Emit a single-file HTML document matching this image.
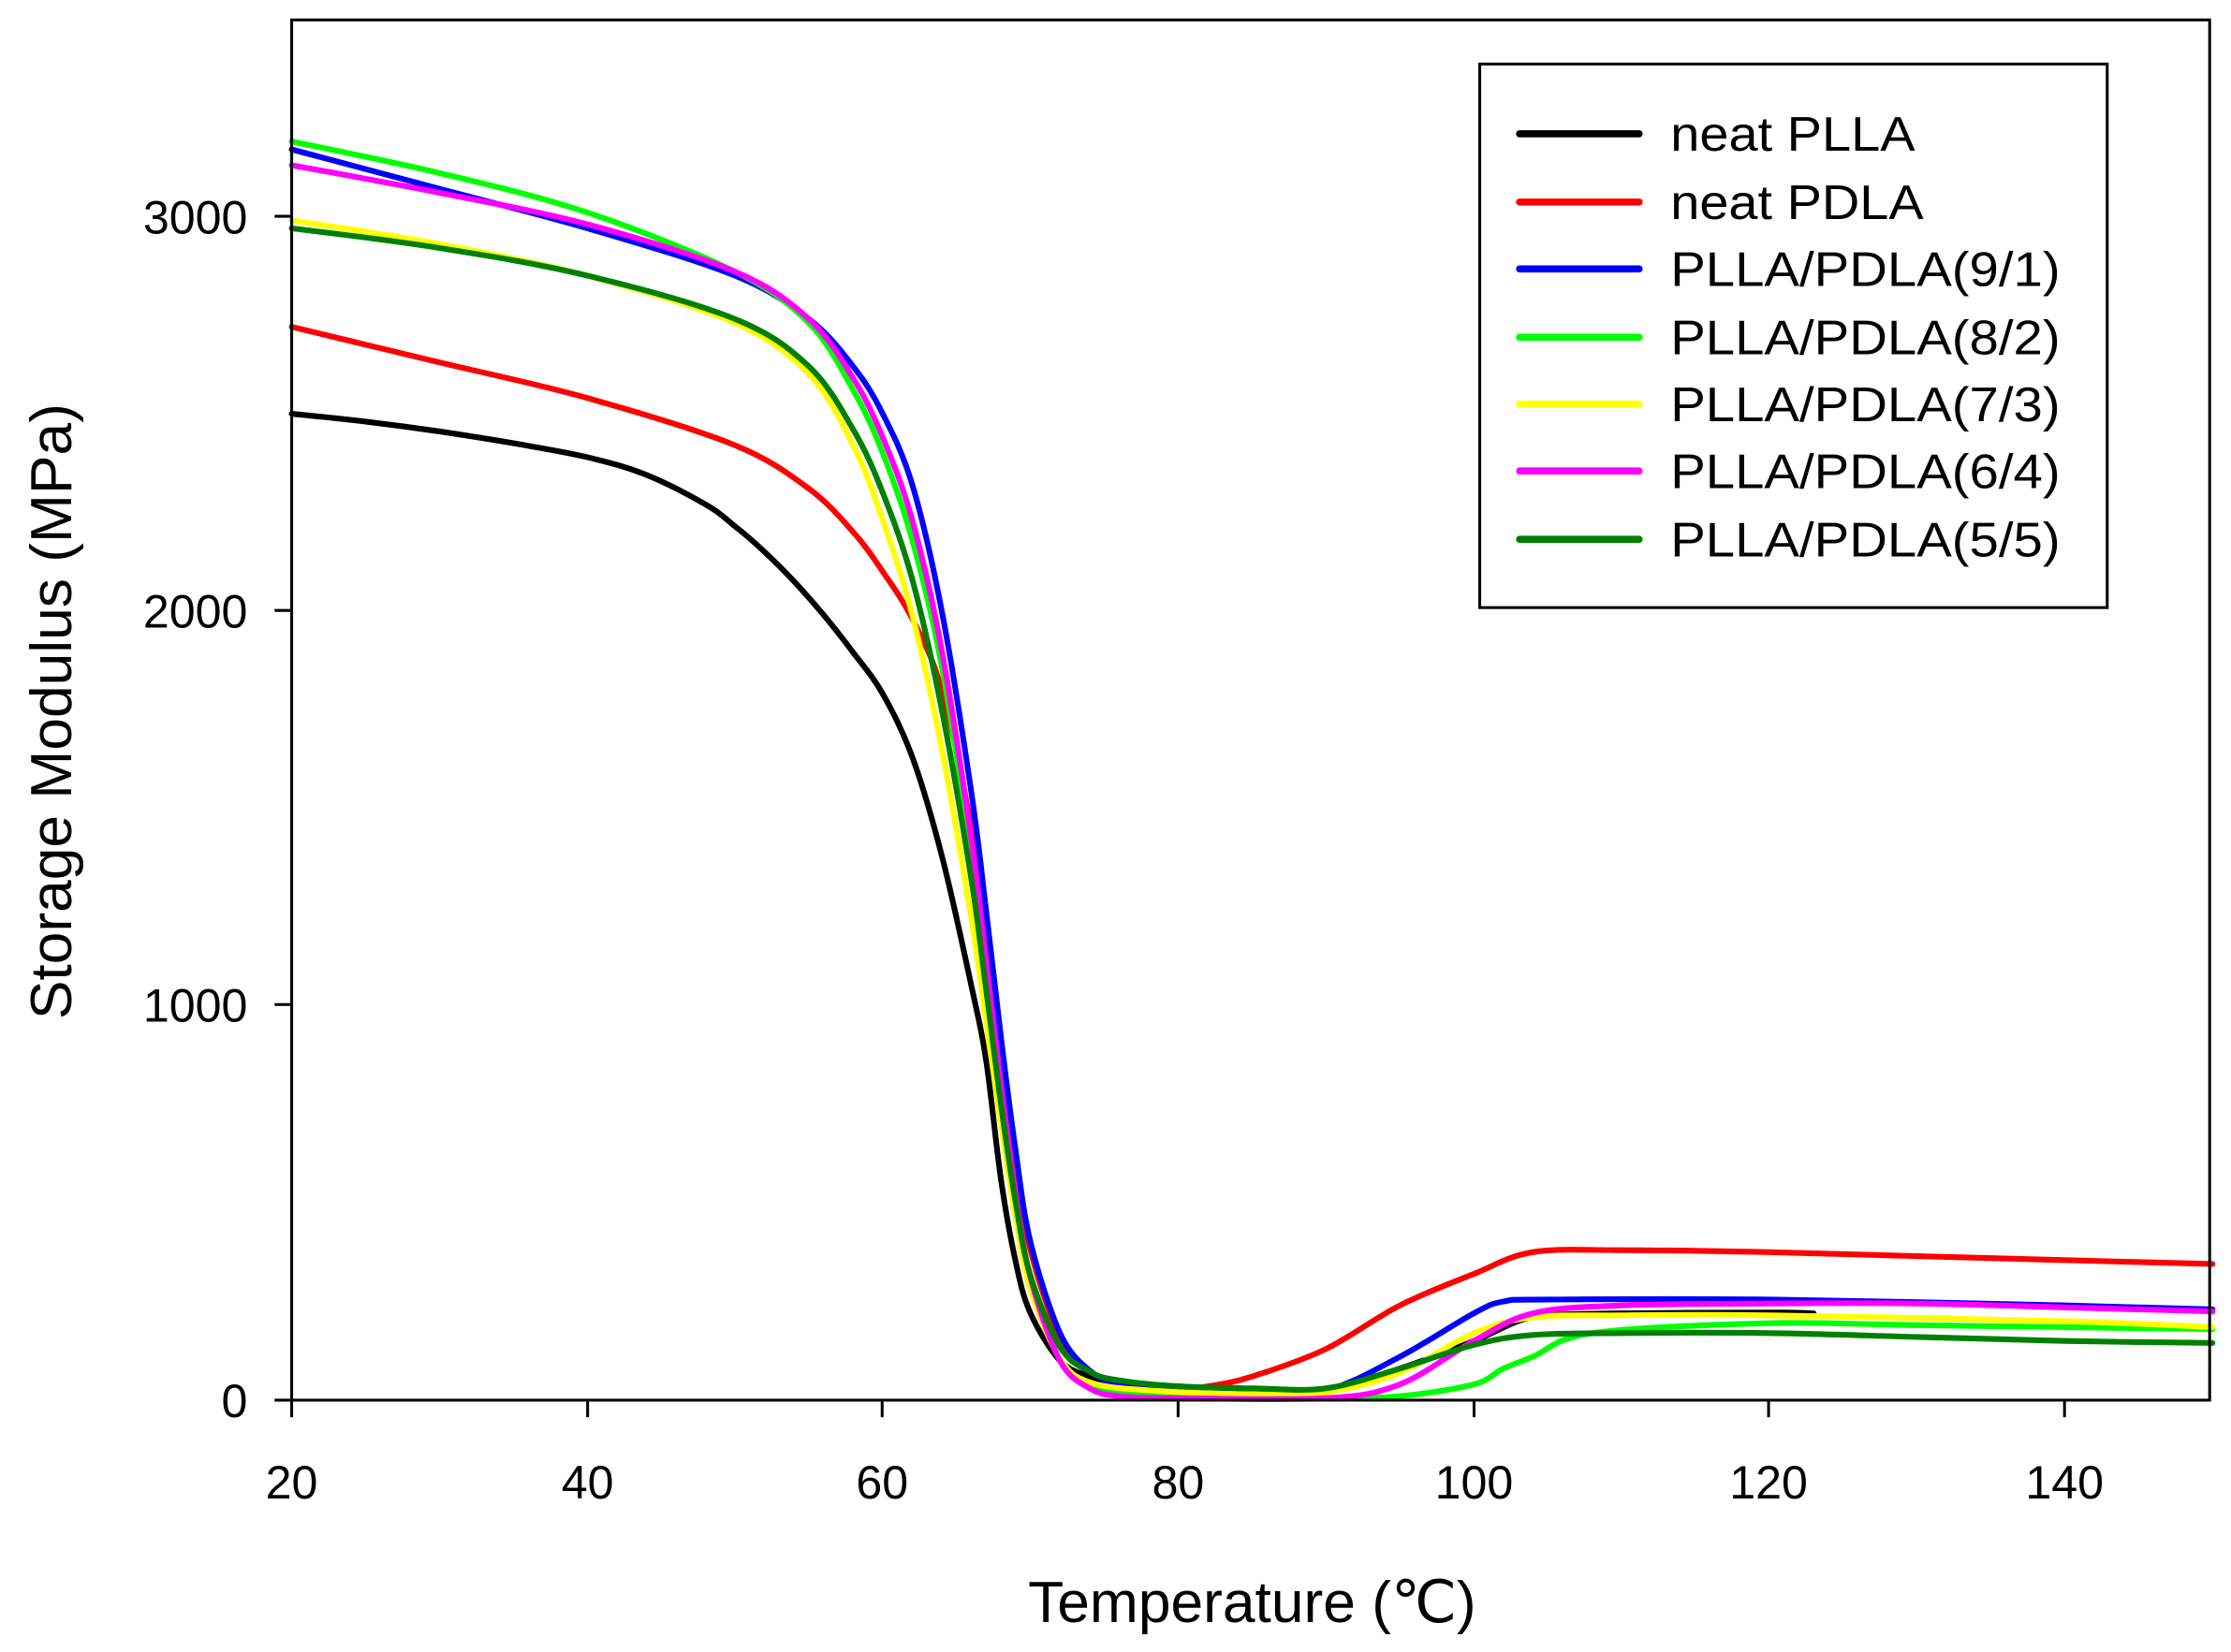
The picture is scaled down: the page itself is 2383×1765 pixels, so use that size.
<!DOCTYPE html>
<html><head><meta charset="utf-8"><style>
html,body{margin:0;padding:0;background:#fff}
svg{display:block}
text{font-family:"Liberation Sans",Arial,sans-serif;fill:#000}
</style></head><body>
<svg id="s" width="2383" height="1765" viewBox="0 0 1568 1161" preserveAspectRatio="none" xmlns="http://www.w3.org/2000/svg">
<rect x="0" y="0" width="1568" height="1161" fill="#fff"/>
<g id="curves" fill="none" stroke-width="4" stroke-linejoin="round" stroke-linecap="round"></g>
<rect x="205" y="14" width="1348" height="970" fill="none" stroke="#000" stroke-width="2"/>
<g stroke="#000" stroke-width="2">
<line x1="205" y1="984" x2="205" y2="996"/><line x1="413" y1="984" x2="413" y2="996"/><line x1="620" y1="984" x2="620" y2="996"/><line x1="828" y1="984" x2="828" y2="996"/><line x1="1036" y1="984" x2="1036" y2="996"/><line x1="1243" y1="984" x2="1243" y2="996"/><line x1="1451" y1="984" x2="1451" y2="996"/>
<line x1="193" y1="984" x2="205" y2="984"/><line x1="193" y1="706" x2="205" y2="706"/><line x1="193" y1="429" x2="205" y2="429"/><line x1="193" y1="152" x2="205" y2="152"/>
</g>
<g font-size="33" text-anchor="middle">
<text x="205" y="1053">20</text><text x="413" y="1053">40</text><text x="620" y="1053">60</text><text x="828" y="1053">80</text><text x="1036" y="1053">100</text><text x="1243" y="1053">120</text><text x="1451" y="1053">140</text>
</g>
<g font-size="33" text-anchor="end">
<text x="174" y="996">0</text><text x="174" y="718">1000</text><text x="174" y="441">2000</text><text x="174" y="164">3000</text>
</g>
<text x="880" y="1140" font-size="41" text-anchor="middle">Temperature (℃)</text>
<text transform="translate(50,500) rotate(-90)" font-size="41" text-anchor="middle">Storage Modulus (MPa)</text>
<rect x="1040" y="45" width="441" height="382" fill="#fff" stroke="#000" stroke-width="2"/>
<g stroke-width="5" stroke-linecap="round">
<line x1="1068" y1="94" x2="1152" y2="94" stroke="#000"/>
<line x1="1068" y1="142" x2="1152" y2="142" stroke="#ff0000"/>
<line x1="1068" y1="189" x2="1152" y2="189" stroke="#0000ff"/>
<line x1="1068" y1="237" x2="1152" y2="237" stroke="#00ff00"/>
<line x1="1068" y1="284" x2="1152" y2="284" stroke="#ffff00"/>
<line x1="1068" y1="331" x2="1152" y2="331" stroke="#ff00ff"/>
<line x1="1068" y1="379" x2="1152" y2="379" stroke="#008000"/>
</g>
<g font-size="34">
<text x="1174" y="106" textLength="172" lengthAdjust="spacingAndGlyphs">neat PLLA</text>
<text x="1174" y="154" textLength="178" lengthAdjust="spacingAndGlyphs">neat PDLA</text>
<text x="1174" y="201" textLength="274" lengthAdjust="spacingAndGlyphs">PLLA/PDLA(9/1)</text>
<text x="1174" y="249" textLength="274" lengthAdjust="spacingAndGlyphs">PLLA/PDLA(8/2)</text>
<text x="1174" y="296" textLength="274" lengthAdjust="spacingAndGlyphs">PLLA/PDLA(7/3)</text>
<text x="1174" y="343" textLength="274" lengthAdjust="spacingAndGlyphs">PLLA/PDLA(6/4)</text>
<text x="1174" y="391" textLength="274" lengthAdjust="spacingAndGlyphs">PLLA/PDLA(5/5)</text>
</g>
</svg>
<script>
var X=function(t){return 205+(t-20)*207.7/20},Y=function(e){return 984-e*0.2773};
var D=[
["#000",[[20,2500],[25,2480],[30,2455],[35,2425],[40,2390],[44,2345],[48,2270],[50,2215],[52,2150],[54,2075],[56,1990],[58,1895],[60,1790],[62,1630],[64,1380],[66,1050],[67,860],[68,560],[69,350],[70,220],[72,100],[74,60],[76,45],[80,35],[85,25],[90,25],[95,80],[100,150],[103,200],[105,215],[110,220],[120,222],[123,220]]],
["#ff0000",[[20,2720],[30,2630],[40,2540],[50,2420],[55,2310],[58,2200],[60,2100],[62,1980],[64,1800],[66,1450],[67,1180],[68,880],[69,600],[70,380],[72,160],[74,75],[76,42],[80,30],[82,35],[85,60],[90,130],[95,240],[100,320],[104,375],[110,380],[120,375],[130,365],[140,355],[150,345]]],
["#0000ff",[[20,3170],[30,3070],[40,2970],[50,2850],[55,2740],[58,2620],[60,2500],[62,2320],[64,2000],[66,1540],[67,1240],[68,920],[69,630],[70,400],[72,170],[74,75],[76,42],[80,30],[85,20],[90,25],[95,110],[100,220],[102,250],[105,255],[120,255],[140,240],[150,230]]],
["#00ff00",[[20,3190],[30,3110],[40,3010],[50,2860],[55,2730],[58,2560],[60,2400],[62,2180],[64,1860],[66,1380],[67,1080],[68,770],[69,490],[70,290],[72,105],[74,40],[76,20],[80,10],[90,5],[95,10],[100,40],[102,80],[104,110],[108,170],[120,195],[130,190],[140,185],[150,180]]],
["#ffff00",[[20,2990],[30,2930],[40,2850],[50,2730],[55,2600],[58,2420],[60,2230],[62,1990],[64,1650],[66,1220],[67,960],[68,700],[69,460],[70,280],[72,105],[74,45],[78,25],[85,15],[90,20],[95,70],[100,170],[104,210],[110,215],[120,215],[140,200],[150,185]]],
["#ff00ff",[[20,3130],[30,3060],[40,2980],[50,2860],[55,2740],[58,2590],[60,2440],[62,2230],[64,1900],[66,1420],[67,1110],[68,800],[69,520],[70,310],[72,100],[74,30],[76,10],[80,5],[90,5],[95,40],[100,150],[104,220],[110,240],[120,245],[130,245],[140,235],[150,225]]],
["#008000",[[20,2970],[30,2920],[40,2850],[50,2740],[55,2620],[58,2460],[60,2300],[62,2080],[64,1750],[66,1320],[67,1040],[68,750],[69,500],[70,315],[72,135],[74,72],[76,50],[80,35],[85,30],[90,30],[95,80],[100,140],[104,165],[110,170],[120,170],[130,160],[140,150],[150,145]]]
];
var g=document.getElementById("curves");
D.forEach(function(s){
 var p=s[1].map(function(q){return [X(q[0]),Y(q[1])]});
 var d="M"+p[0][0].toFixed(1)+","+p[0][1].toFixed(1);
 for(var i=0;i<p.length-1;i++){
  var p0=p[i?i-1:0],p1=p[i],p2=p[i+1],p3=p[i+2<p.length?i+2:i+1];
  var c1=[p1[0]+(p2[0]-p0[0])/6,p1[1]+(p2[1]-p0[1])/6],c2=[p2[0]-(p3[0]-p1[0])/6,p2[1]-(p3[1]-p1[1])/6];
  d+=" C"+c1[0].toFixed(1)+","+c1[1].toFixed(1)+" "+c2[0].toFixed(1)+","+c2[1].toFixed(1)+" "+p2[0].toFixed(1)+","+p2[1].toFixed(1);
 }
 var e=document.createElementNS("http://www.w3.org/2000/svg","path");
 e.setAttribute("d",d);e.setAttribute("stroke",s[0]);g.appendChild(e);
});
</script>
</body></html>
